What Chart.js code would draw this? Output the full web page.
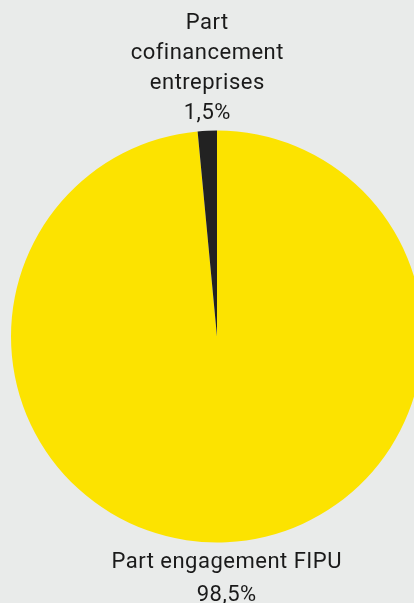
<!DOCTYPE html>
<html>
<head>
<meta charset="utf-8">
<script src="https://cdn.jsdelivr.net/npm/chart.js@4"></script>
<style>
  html, body { margin: 0; padding: 0; background: #e9ebea; overflow: hidden; }
  canvas { display: block; }
</style>
</head>
<body>
<canvas id="pieChart" width="434" height="603"></canvas>
<script>
const labels = [['Part engagement FIPU'], ['Part', 'cofinancement', 'entreprises']];
const values = [98.5, 1.5];
const colors = ['#fce300', '#222222'];

// étiquettes dessinées à l'extérieur de chaque part
const outsideLabels = {
  id: 'outsideLabels',
  afterDatasetsDraw(chart) {
    const ctx = chart.ctx;
    const meta = chart.getDatasetMeta(0);
    ctx.save();
    ctx.font = '22px Roboto, "Noto Sans", sans-serif';
    ctx.letterSpacing = '0.5px';
    ctx.fillStyle = '#1a1a1a';
    ctx.textAlign = 'center';
    meta.data.forEach((arc, i) => {
      const p = arc.getProps(['x', 'y', 'startAngle', 'endAngle', 'outerRadius'], true);
      const mid = (p.startAngle + p.endAngle) / 2;
      const x = p.x + Math.cos(mid) * p.outerRadius;
      const y = p.y + Math.sin(mid) * p.outerRadius;
      const lines = [...labels[i], values[i].toFixed(1).replace('.', ',') + '%'];
      if (Math.sin(mid) < 0) {
        // au-dessus
        lines.slice().reverse().forEach((t, k) => ctx.fillText(t, x, y - 12 - k * 30));
      } else {
        lines.forEach((t, k) => ctx.fillText(t, x, y + 26 + k * 33));
      }
    });
    ctx.restore();
  }
};

new Chart(document.getElementById('pieChart'), {
  type: 'pie',
  data: {
    labels: labels,
    datasets: [{
      data: values,
      backgroundColor: colors,
      borderWidth: 0
    }]
  },
  options: {
    responsive: false,
    animation: false,
    layout: { padding: { top: 130, bottom: 60, left: 11, right: 11 } },
    plugins: {
      legend: { display: false },
      tooltip: { enabled: false }
    }
  },
  plugins: [outsideLabels]
});
</script>
</body>
</html>
